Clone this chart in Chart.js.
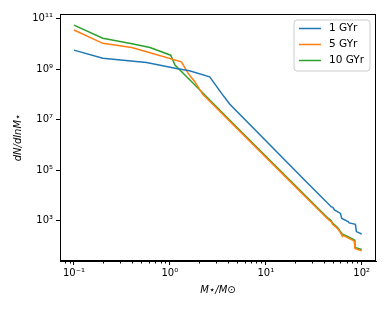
<!DOCTYPE html>
<html>
<head>
<meta charset="utf-8">
<script src="https://cdn.jsdelivr.net/npm/chart.js@4.4.1/dist/chart.umd.min.js"></script>
<style>
  html, body { margin: 0; padding: 0; background: #fff; }
  #c { display: block; }
</style>
</head>
<body>
<canvas id="c" width="390" height="312"></canvas>
<script>
// series labels + colours
var labels = ["1 GYr", "5 GYr", "10 GYr"];
var colors = ["#1f77b4", "#ff7f0e", "#2ca02c"];

// stellar mass (M_sun) and dN/dlnM
var mass1 = [0.1, 0.2, 0.57, 1.17, 1.6, 2.6, 3.46, 4.22, 28.7, 36.5, 48, 50, 52, 60, 62, 72, 74, 86, 88, 100];
var dn1   = [5.7e9, 2.7e9, 1.86e9, 1.07e9, 8.7e8, 5.0e8, 1.1e8, 4.1e7, 2.5e4, 1.0e4, 3.5e3, 3.3e3, 2.6e3, 1.9e3, 1.2e3, 900, 800, 700, 360, 290];

var mass5 = [0.1, 0.2, 0.4, 0.62, 1.32, 1.55, 1.82, 2.2, 4.22, 22.6, 36.5, 45, 48, 50, 55, 57, 61, 62, 67, 84, 85, 100];
var dn5   = [3.6e10, 1.06e10, 7.3e9, 4.5e9, 1.96e9, 6.8e8, 3.2e8, 1.0e8, 8.5e6, 1.45e4, 2.35e3, 1.08e3, 900, 690, 505, 435, 300, 262, 235, 150, 77, 63];

var mass10 = [0.1, 0.2, 0.415, 0.62, 1.02, 1.13, 1.62, 4.22, 22.6, 36.5, 45, 48, 50, 55, 57, 61, 62, 67, 84, 85, 100];
var dn10   = [5.6e10, 1.7e10, 1.0e10, 7.3e9, 3.6e9, 1.45e9, 3.7e8, 9.5e6, 1.6e4, 2.6e3, 1.2e3, 1.0e3, 760, 560, 480, 330, 290, 260, 166, 85, 70];

var xTicks = [0.1, 1, 10, 100];
var yTicks = [1e3, 1e5, 1e7, 1e9, 1e11];

var sup = {"-": "\u207b", "0": "\u2070", "1": "\u00b9", "2": "\u00b2", "3": "\u00b3", "4": "\u2074",
           "5": "\u2075", "6": "\u2076", "7": "\u2077", "8": "\u2078", "9": "\u2079"};
function powLabel(v) {
  var e = String(Math.round(Math.log10(v)));
  var s = "";
  for (var i = 0; i < e.length; i++) s += sup[e[i]];
  return "10" + s;
}

function pts(xs, ys) {
  var out = [];
  for (var i = 0; i < xs.length; i++) out.push({x: xs[i], y: ys[i]});
  return out;
}

var FONT = "'DejaVu Sans', sans-serif";
Chart.defaults.color = "#000";
Chart.defaults.font.family = FONT;
Chart.defaults.font.size = 10;

// frame, minor x ticks, legend box
var extras = {
  id: "extras",
  afterDraw: function(chart) {
    var ctx = chart.ctx, a = chart.chartArea, xs = chart.scales.x;
    ctx.save();
    ctx.strokeStyle = "#000";
    ctx.lineWidth = 1;
    ctx.strokeRect(Math.round(a.left) + 0.5, Math.round(a.top) + 0.5,
                   Math.round(a.right - a.left) - 1, Math.round(a.bottom - a.top) - 1);
    // minor ticks
    ctx.beginPath();
    for (var d = -2; d <= 2; d++) {
      for (var m = 2; m <= 9; m++) {
        var v = m * Math.pow(10, d);
        if (v < xs.min || v > xs.max) continue;
        var px = Math.round(xs.getPixelForValue(v)) + 0.5;
        ctx.moveTo(px, a.bottom);
        ctx.lineTo(px, a.bottom + 2.5);
      }
    }
    ctx.stroke();

    // legend
    var w = 76, h = 51, x0 = a.right - 6 - w, y0 = a.top + 6, r = 3;
    ctx.beginPath();
    ctx.moveTo(x0 + r, y0);
    ctx.arcTo(x0 + w, y0, x0 + w, y0 + h, r);
    ctx.arcTo(x0 + w, y0 + h, x0, y0 + h, r);
    ctx.arcTo(x0, y0 + h, x0, y0, r);
    ctx.arcTo(x0, y0, x0 + w, y0, r);
    ctx.closePath();
    ctx.fillStyle = "rgba(255,255,255,0.8)";
    ctx.fill();
    ctx.strokeStyle = "#cccccc";
    ctx.stroke();
    ctx.font = "10.5px " + FONT;
    ctx.textBaseline = "middle";
    chart.data.datasets.forEach(function(ds, i) {
      var yy = y0 + 8.5 + i * 16;
      ctx.strokeStyle = ds.borderColor;
      ctx.lineWidth = 1.5;
      ctx.beginPath();
      ctx.moveTo(x0 + 5, yy);
      ctx.lineTo(x0 + 27, yy);
      ctx.stroke();
      ctx.fillStyle = "#000";
      ctx.fillText(ds.label, x0 + 35, yy);
    });
    ctx.restore();
  }
};

var sets = [[mass1, dn1], [mass5, dn5], [mass10, dn10]];
var datasets = sets.map(function(s, i) {
  return {
    label: labels[i],
    data: pts(s[0], s[1]),
    borderColor: colors[i],
    backgroundColor: colors[i],
    borderWidth: 1.5,
    pointRadius: 0,
    tension: 0,
    fill: false
  };
});

new Chart(document.getElementById("c").getContext("2d"), {
  type: "line",
  data: { datasets: datasets },
  options: {
    responsive: false,
    animation: false,
    layout: { padding: { left: 4, top: 14, right: 14, bottom: 10 } },
    plugins: { legend: { display: false }, tooltip: { enabled: false } },
    scales: {
      x: {
        type: "logarithmic",
        min: 0.0715,
        max: 141,
        afterFit: function(s) { s.height = 41; },
        afterBuildTicks: function(s) { s.ticks = xTicks.map(function(v) { return {value: v}; }); },
        ticks: { callback: function(v) { return powLabel(v); }, padding: 2, maxRotation: 0, autoSkip: false,
                 font: { size: 10 } },
        grid: { drawOnChartArea: false, drawTicks: true, tickLength: 4, tickColor: "#000", tickWidth: 1 },
        border: { display: true, color: "#000", width: 1 },
        title: { display: true, text: "M\u22c6/M\u2299", padding: { top: 0, bottom: 6 },
                 font: { size: 10, style: "italic" } }
      },
      y: {
        type: "logarithmic",
        min: Math.pow(10, 1.39),
        max: Math.pow(10, 11.19),
        afterFit: function(s) { s.width = 56; },
        afterBuildTicks: function(s) { s.ticks = yTicks.map(function(v) { return {value: v}; }); },
        ticks: { callback: function(v) { return powLabel(v); }, padding: 3, autoSkip: false,
                 font: { size: 10 } },
        grid: { drawOnChartArea: false, drawTicks: true, tickLength: 4, tickColor: "#000", tickWidth: 1 },
        border: { display: true, color: "#000", width: 1 },
        title: { display: true, text: "dN/dlnM\u22c6", padding: { top: 8, bottom: 0 },
                 font: { size: 10, style: "italic" } }
      }
    }
  },
  plugins: [extras]
});
</script>
</body>
</html>
